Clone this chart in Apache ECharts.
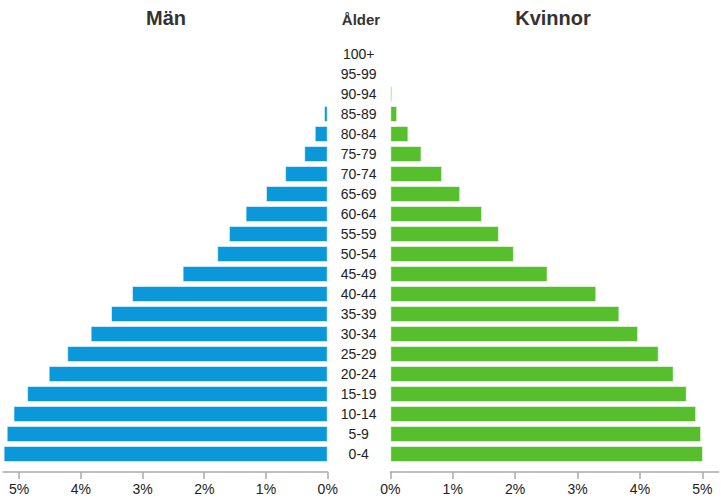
<!DOCTYPE html>
<html>
<head>
<meta charset="utf-8">
<script src="https://cdn.jsdelivr.net/npm/echarts@6/dist/echarts.min.js"></script>
<style>
  html, body { margin: 0; padding: 0; background: #fff; }
  #chart { width: 721px; height: 504px; }
</style>
</head>
<body>
<div id="chart"></div>
<script>
// age groups, bottom to top
const ageGroups = ['0-4', '5-9', '10-14', '15-19', '20-24', '25-29', '30-34', '35-39', '40-44',
  '45-49', '50-54', '55-59', '60-64', '65-69', '70-74', '75-79', '80-84', '85-89', '90-94',
  '95-99', '100+']

// share of population, percent
const men = [5.25, 5.20, 5.09, 4.87, 4.52, 4.22, 3.84, 3.51, 3.17, 2.35, 1.79, 1.60, 1.33,
  1.00, 0.69, 0.38, 0.21, 0.06, 0.01, 0.003, 0]
const women = [5.01, 4.98, 4.90, 4.75, 4.54, 4.30, 3.97, 3.67, 3.30, 2.52, 1.98, 1.74, 1.47,
  1.12, 0.83, 0.50, 0.29, 0.11, 0.03, 0.005, 0.001]

const axisMax = 5.26
const font = 'Liberation Sans, Arial, sans-serif'

const valueAxis = (gridIndex, inverse) => ({
  type: 'value',
  gridIndex,
  inverse,
  min: 0,
  max: axisMax,
  interval: 1,
  offset: 8,
  splitLine: { show: false },
  axisLine: { show: true, lineStyle: { color: '#aaa', width: 1.5 } },
  axisTick: { show: true, length: 7, lineStyle: { color: '#aaa', width: 1.5 } },
  axisLabel: {
    formatter: '{value}%',
    color: '#222',
    fontSize: 14,
    fontFamily: font,
    margin: 10,
    showMaxLabel: false,
  },
})

const chart = echarts.init(document.getElementById('chart'), null, { renderer: 'svg' })

chart.setOption({
  animation: false,
  title: [
    { text: 'Män', left: 161, top: 3, textAlign: 'center',
      textStyle: { fontSize: 20, fontWeight: 'bold', color: '#333', fontFamily: font } },
    { text: 'Kvinnor', left: 548, top: 3, textAlign: 'center',
      textStyle: { fontSize: 20, fontWeight: 'bold', color: '#333', fontFamily: font } },
    { text: 'Ålder', left: 356, top: 7, textAlign: 'center',
      textStyle: { fontSize: 15, fontWeight: 'bold', color: '#333', fontFamily: font } },
  ],
  grid: [
    { left: 3, width: 324.7, top: 44, height: 420 },
    { left: 390.3, width: 328.3, top: 44, height: 420 },
  ],
  xAxis: [valueAxis(0, true), valueAxis(1, false)],
  yAxis: [
    {
      type: 'category',
      gridIndex: 0,
      position: 'right',
      data: ageGroups,
      axisLine: { show: false },
      axisTick: { show: false },
      axisLabel: { align: 'center', margin: 31, color: '#222', fontSize: 14, fontFamily: font },
    },
    {
      type: 'category',
      gridIndex: 1,
      data: ageGroups,
      axisLine: { show: false },
      axisTick: { show: false },
      axisLabel: { show: false },
    },
  ],
  series: [
    {
      name: 'Män',
      type: 'bar',
      xAxisIndex: 0,
      yAxisIndex: 0,
      data: men,
      barCategoryGap: '20%',
      itemStyle: { color: '#0b98da', borderColor: 'rgba(255,255,255,0.55)', borderWidth: 1 },
    },
    {
      name: 'Kvinnor',
      type: 'bar',
      xAxisIndex: 1,
      yAxisIndex: 1,
      data: women,
      barCategoryGap: '20%',
      itemStyle: { color: '#57bf2d', borderColor: 'rgba(255,255,255,0.55)', borderWidth: 1 },
    },
  ],
})
</script>
</body>
</html>
